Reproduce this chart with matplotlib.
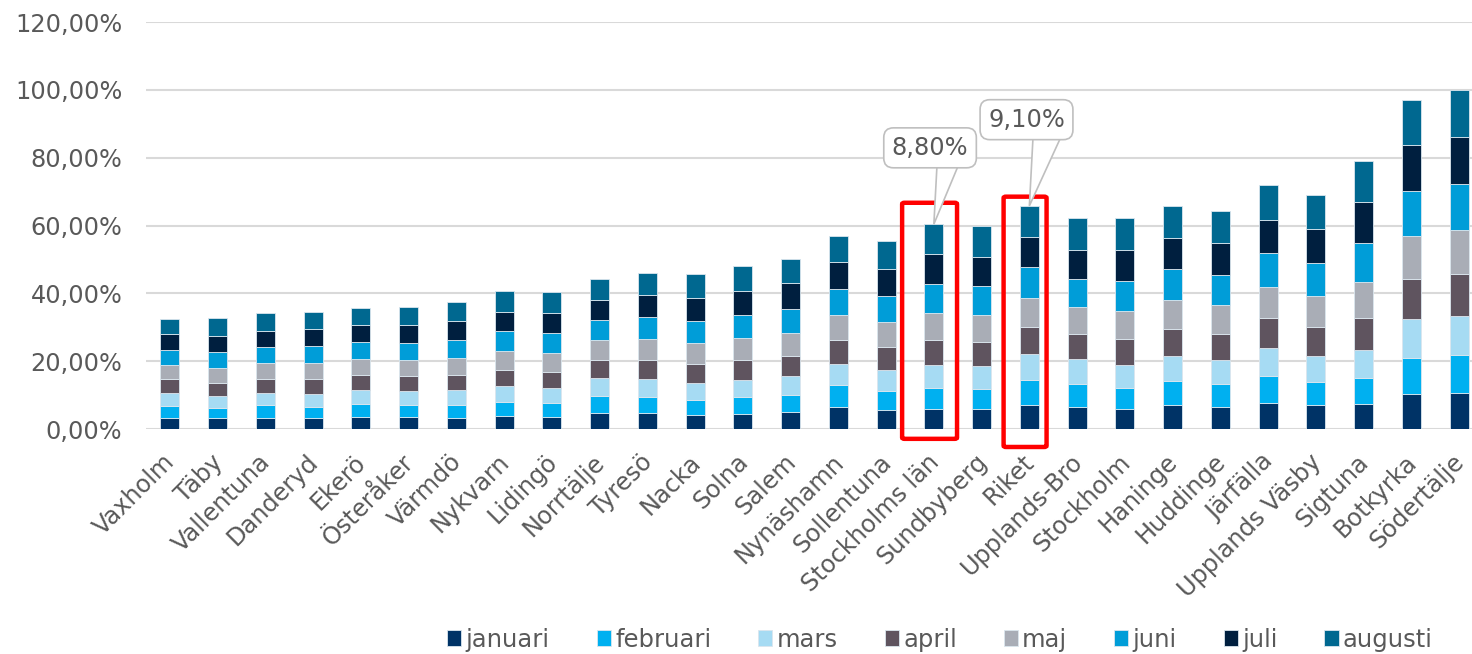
import numpy as np
import matplotlib
matplotlib.use("Agg")
import matplotlib.pyplot as plt
import matplotlib.transforms as mtransforms
from matplotlib.patches import FancyBboxPatch, Polygon
from matplotlib.ticker import FuncFormatter

kommuner = ['Vaxholm', 'Täby', 'Vallentuna', 'Danderyd', 'Ekerö', 'Österåker', 'Värmdö',
            'Nykvarn', 'Lidingö', 'Norrtälje', 'Tyresö', 'Nacka', 'Solna', 'Salem',
            'Nynäshamn', 'Sollentuna', 'Stockholms län', 'Sundbyberg', 'Riket',
            'Upplands-Bro', 'Stockholm', 'Haninge', 'Huddinge', 'Järfälla',
            'Upplands Väsby', 'Sigtuna', 'Botkyrka', 'Södertälje']

januari  = [3.3, 3.2, 3.3, 3.3, 3.5, 3.5, 3.3, 3.9, 3.6, 4.8, 4.8, 4.2, 4.5, 5.1,
            6.4, 5.6, 5.9, 5.8, 7.2, 6.6, 6.0, 7.2, 6.6, 7.8, 7.0, 7.4, 10.4, 10.7]
februari = [3.6, 3.1, 3.8, 3.3, 4.0, 3.7, 3.9, 4.2, 4.1, 4.9, 4.7, 4.4, 4.9, 4.9,
            6.6, 5.6, 6.3, 6.0, 7.3, 6.8, 6.2, 7.0, 6.7, 7.8, 6.9, 7.6, 10.5, 11.1]
mars     = [3.6, 3.4, 3.6, 3.7, 4.0, 4.1, 4.2, 4.5, 4.3, 5.3, 5.3, 5.0, 5.1, 5.6,
            6.3, 6.2, 6.7, 6.7, 7.6, 7.2, 6.7, 7.3, 7.1, 8.4, 7.6, 8.3, 11.5, 11.5]
april    = [4.2, 3.9, 4.1, 4.5, 4.3, 4.3, 4.4, 4.9, 4.9, 5.4, 5.6, 5.7, 5.9, 6.0,
            7.0, 6.8, 7.3, 7.2, 8.1, 7.4, 7.7, 8.1, 7.7, 8.7, 8.5, 9.4, 11.8, 12.4]
maj      = [4.1, 4.3, 4.6, 4.6, 4.8, 4.8, 5.1, 5.4, 5.5, 5.9, 6.1, 6.1, 6.4, 6.6,
            7.3, 7.3, 8.0, 7.9, 8.4, 7.9, 8.2, 8.5, 8.5, 9.3, 9.1, 10.7, 12.6, 13.0]
juni     = [4.5, 4.8, 4.8, 5.0, 5.1, 5.1, 5.4, 5.9, 5.8, 5.9, 6.4, 6.5, 6.9, 7.2,
            7.7, 7.6, 8.5, 8.5, 9.1, 8.3, 8.9, 9.1, 8.8, 9.8, 9.8, 11.4, 13.3, 13.6]
juli     = [4.6, 4.8, 4.8, 5.2, 5.1, 5.3, 5.6, 5.8, 6.1, 5.9, 6.7, 6.8, 7.1, 7.5,
            7.8, 8.2, 8.9, 8.7, 9.0, 8.7, 9.2, 9.2, 9.3, 9.9, 10.2, 12.0, 13.5, 13.7]
augusti  = [4.6, 5.2, 5.1, 5.0, 5.0, 5.2, 5.6, 6.0, 6.1, 6.2, 6.5, 6.9, 7.3, 7.1,
            7.9, 8.0, 8.8, 9.0, 9.1, 9.3, 9.3, 9.3, 9.6, 10.3, 9.9, 12.1, 13.5, 13.9]

manader = ['januari', 'februari', 'mars', 'april', 'maj', 'juni', 'juli', 'augusti']
serier = [januari, februari, mars, april, maj, juni, juli, augusti]
farger = ['#003366', '#00B0F0', '#A6DBF3', '#5F545F', '#A9ADB6', '#009DD8', '#001F3F', '#006890']

markerade = ['Stockholms län', 'Riket']

grey = '#595959'
plt.rcParams['font.family'] = ['DejaVu Sans']

fig = plt.figure(figsize=(14.72, 6.54), dpi=100)
ax = fig.add_axes([146 / 1472, 225 / 654, 1337 / 1472, 407 / 654])

x = np.arange(len(kommuner))
bottom = np.zeros(len(kommuner))
for namn, vals, c in zip(manader, serier, farger):
    ax.bar(x, vals, 0.4, bottom=bottom, color=c, label=namn,
           edgecolor='#dbe6ee', linewidth=0.6, zorder=3)
    bottom += np.array(vals)
totals = bottom

ax.set_xlim(-0.5, len(kommuner) - 0.5)
ax.set_ylim(0, 120)
ax.set_yticks(np.arange(0, 121, 20))
ax.yaxis.set_major_formatter(FuncFormatter(lambda v, p: f"{v:.2f}".replace('.', ',') + '%'))
ax.grid(axis='y', color='#d9d9d9', linewidth=1.5, zorder=0)
for s in ax.spines.values():
    s.set_visible(False)
ax.tick_params(axis='y', length=0, pad=17, labelsize=17.3, labelcolor=grey)
ax.tick_params(axis='x', length=0, pad=15, labelsize=17.3, labelcolor=grey)
ax.set_xticks(x)
ax.set_xticklabels(kommuner, rotation=45, ha='right', va='top', rotation_mode='anchor')
shift = mtransforms.ScaledTranslation(-0.07, 0, fig.dpi_scale_trans)
for lbl in ax.get_xticklabels():
    lbl.set_transform(lbl.get_transform() + shift)

# red frames around highlighted bars
frame_w = {'Stockholms län': 1.15, 'Riket': 0.9}
frame_lo = {'Stockholms län': -2.9, 'Riket': -5.3}
frame_hi = {'Stockholms län': 6.3, 'Riket': 2.7}
for namn in markerade:
    i = kommuner.index(namn)
    w = frame_w[namn]
    rect = FancyBboxPatch((i - 0.09 - w / 2, frame_lo[namn]), w,
                          totals[i] + frame_hi[namn] - frame_lo[namn],
                          boxstyle='round,pad=0,rounding_size=0.05',
                          fill=False, ec='#FF0000', lw=3.2, clip_on=False, zorder=5,
                          mutation_aspect=8)
    ax.add_patch(rect)

# callouts for augusti values
callout_pos = {'Stockholms län': (15.92, 82.9), 'Riket': (17.94, 91.2)}
callout_base = {'Stockholms län': (0.07, 0.55, 79.0), 'Riket': (0.08, 0.69, 87.0)}
for namn in markerade:
    i = kommuner.index(namn)
    val = augusti[i]
    d1, d2, yb = callout_base[namn]
    ax.add_patch(Polygon([(i + d1, yb), (i + d2, yb), (i, totals[i])], closed=True,
                         fc='white', ec='#bfbfbf', lw=1.2, zorder=6, clip_on=False))
    ax.text(*callout_pos[namn], f"{val:.2f}".replace('.', ',') + '%',
            ha='center', va='center', fontsize=17.4, color=grey, zorder=7,
            bbox=dict(boxstyle='round,pad=0.33,rounding_size=0.4', fc='white', ec='#bfbfbf', lw=1.2))

handles, labels = ax.get_legend_handles_labels()
fig.legend(handles, labels, loc='center', bbox_to_anchor=(0.6386, 0.022), ncol=8,
           frameon=False, fontsize=17.5, labelcolor=grey, handlelength=0.58, handleheight=0.58,
           handletextpad=0.18, columnspacing=1.93)

fig.savefig('out.png', dpi=100)
